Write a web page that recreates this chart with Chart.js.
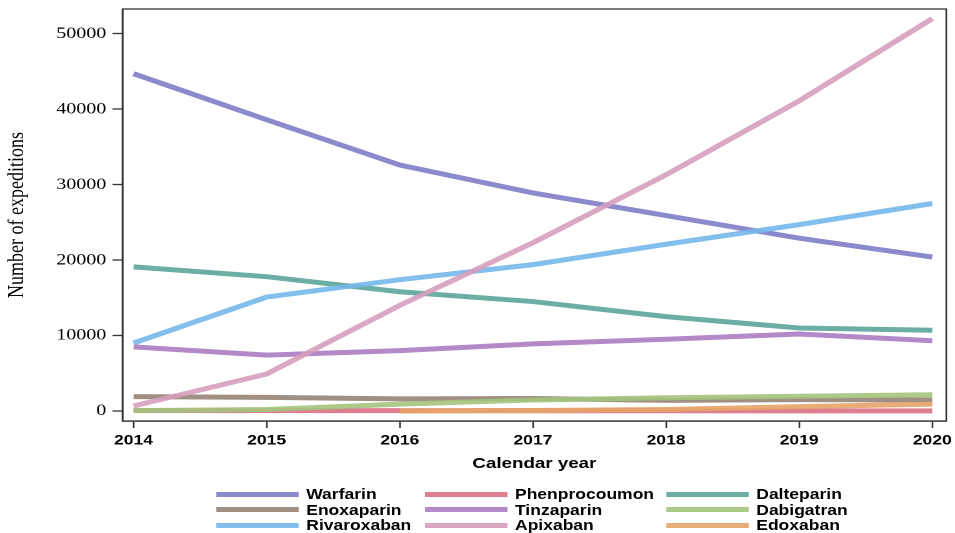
<!DOCTYPE html>
<html>
<head>
<meta charset="utf-8">
<script src="https://cdn.jsdelivr.net/npm/chart.js@4.4.1/dist/chart.umd.min.js"></script>
<style>
    html, body { margin: 0; padding: 0; background: #fff; overflow: hidden; }
    /* the reference is horizontally stretched, so draw narrower and stretch */
    #wrap { position: absolute; left: 0; top: 0; width: 764px; height: 533px; transform: scaleX(1.25); transform-origin: 0 0; }
    #chart { position: absolute; left: 0; top: 0; }
    .item { position: absolute; height: 16px; line-height: 16px; display: flex; align-items: center;
            font: bold 14px "Liberation Sans", Arial, sans-serif; color: #000; white-space: nowrap; }
    .sw { width: 66px; height: 5px; margin-right: 6px; }
</style>
</head>
<body>
<div id="wrap">
    <canvas id="chart" width="764" height="480"></canvas>
    <div id="legend"></div>
</div>
<script>
const years = [2014, 2015, 2016, 2017, 2018, 2019, 2020];

const warfarin      = [44700, 38600, 32600, 28900, 25900, 22900, 20400];
const phenprocoumon = [60, 50, 40, 30, 30, 20, 20];
const dalteparin    = [19100, 17800, 15800, 14500, 12500, 11000, 10700];
const enoxaparin    = [1900, 1800, 1600, 1650, 1400, 1500, 1450];
const tinzaparin    = [8500, 7400, 8000, 8900, 9500, 10200, 9300];
const dabigatran    = [50, 200, 900, 1450, 1750, 1950, 2150];
const rivaroxaban   = [9000, 15100, 17400, 19400, 22100, 24700, 27500];
const apixaban      = [660, 4900, 14000, 22300, 31300, 41100, 52000];
const edoxaban      = [null, null, 0, 60, 200, 570, 900];

const seriesNames = ['Warfarin', 'Phenprocoumon', 'Dalteparin', 'Enoxaparin', 'Tinzaparin',
                     'Dabigatran', 'Rivaroxaban', 'Apixaban', 'Edoxaban'];
const seriesValues = [warfarin, phenprocoumon, dalteparin, enoxaparin, tinzaparin,
                      dabigatran, rivaroxaban, apixaban, edoxaban];
const seriesColors = ['rgba(128,124,198,0.9)', 'rgba(218,112,132,0.9)', 'rgba(92,164,154,0.9)',
                      'rgba(150,132,118,0.9)', 'rgba(172,124,194,0.9)', 'rgba(164,196,126,0.9)',
                      'rgba(118,184,234,0.9)', 'rgba(214,158,188,0.9)', 'rgba(230,164,104,0.9)'];

const yTicks = [0, 10000, 20000, 30000, 40000, 50000];

// frame around the plot area (top and right sides)
const framePlugin = {
    id: 'frame',
    afterDraw(chart) {
        const a = chart.chartArea;
        const ctx = chart.ctx;
        ctx.save();
        ctx.strokeStyle = '#333';
        ctx.lineWidth = 1.3;
        ctx.strokeRect(a.left, a.top, a.right - a.left, a.bottom - a.top);
        ctx.restore();
    }
};

const datasets = seriesNames.map((name, i) => ({
    label: name,
    data: years.map((yr, j) => ({ x: yr, y: seriesValues[i][j] })),
    borderColor: seriesColors[i],
    backgroundColor: seriesColors[i],
    borderWidth: 5,
    pointRadius: 0,
    tension: 0,
    spanGaps: false,
    order: seriesNames.length - i
}));

const ctx = document.getElementById('chart').getContext('2d');
new Chart(ctx, {
    type: 'line',
    data: { datasets: datasets },
    options: {
        responsive: false,
        animation: false,
        devicePixelRatio: 2,
        layout: { padding: { top: 9, right: 7, left: 0, bottom: 0 } },
        plugins: { legend: { display: false }, tooltip: { enabled: false } },
        scales: {
            x: {
                type: 'linear',
                min: 2013.917,
                max: 2020.105,
                afterBuildTicks: s => { s.ticks = years.map(v => ({ value: v })); },
                afterFit: s => { s.height = 59; s.paddingLeft = 0; s.paddingRight = 0; },
                grid: { drawOnChartArea: false, tickLength: 7, tickColor: '#333', tickWidth: 1.3 },
                border: { color: '#333', width: 1.3 },
                ticks: {
                    color: '#000',
                    padding: 4,
                    maxRotation: 0,
                    font: { family: '"Liberation Sans", Arial', weight: 'bold', size: 14 },
                    callback: v => String(v)
                },
                title: {
                    display: true,
                    text: 'Calendar year',
                    color: '#000',
                    padding: { top: 0, bottom: 7 },
                    font: { family: '"Liberation Sans", Arial', weight: 'bold', size: 15 }
                }
            },
            y: {
                min: -1330,
                max: 53280,
                afterBuildTicks: s => { s.ticks = yTicks.map(v => ({ value: v })); },
                afterFit: s => { s.width = 98; s.paddingTop = 0; s.paddingBottom = 0; },
                grid: { drawOnChartArea: false, tickLength: 8, tickColor: '#333', tickWidth: 1.3 },
                border: { color: '#333', width: 1.3 },
                ticks: {
                    color: '#000',
                    padding: 5,
                    font: { family: '"Liberation Serif", "Times New Roman", serif', size: 16 },
                    callback: v => String(v)
                },
                title: {
                    display: true,
                    text: 'Number of expeditions',
                    color: '#000',
                    padding: { top: 3, bottom: 0 },
                    font: { family: '"Liberation Serif", "Times New Roman", serif', size: 18 }
                }
            }
        }
    },
    plugins: [framePlugin]
});

// legend in three columns
const legendCols = [173, 340, 533];
const legendRows = [494, 509.5, 525];
const legend = document.getElementById('legend');
seriesNames.forEach((name, i) => {
    const item = document.createElement('div');
    item.className = 'item';
    item.style.left = legendCols[i % 3] + 'px';
    item.style.top = (legendRows[Math.floor(i / 3)] - 8) + 'px';
    item.innerHTML = '<span class="sw" style="background:' + seriesColors[i] + '"></span>' + name;
    legend.appendChild(item);
});
</script>
</body>
</html>
